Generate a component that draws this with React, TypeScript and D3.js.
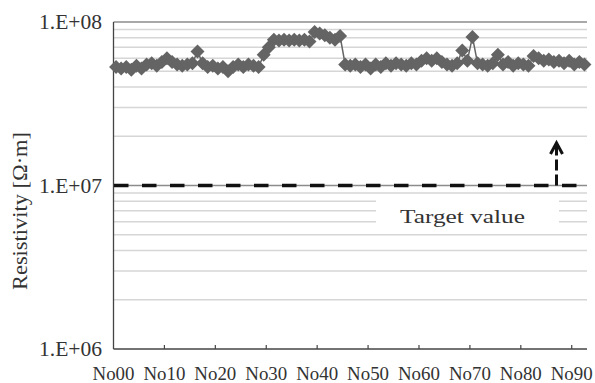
import React from "react";
import * as d3 from "d3";

// ---- Data ----
const categories: string[] = Array.from({ length: 93 }, (_, i) => "No" + String(i).padStart(2, "0"));
const tickLabels: string[] = ["No00", "No10", "No20", "No30", "No40", "No50", "No60", "No70", "No80", "No90"];
const resistivity: number[] = [
  5.3e7, 5.2e7, 5.3e7, 5.1e7, 5.4e7, 5.2e7, 5.5e7, 5.6e7, 5.4e7, 5.7e7,
  6.0e7, 5.7e7, 5.5e7, 5.4e7, 5.5e7, 5.6e7, 6.6e7, 5.6e7, 5.3e7, 5.4e7,
  5.2e7, 5.3e7, 5.0e7, 5.3e7, 5.5e7, 5.3e7, 5.5e7, 5.4e7, 5.3e7, 6.3e7,
  7.0e7, 7.8e7, 7.7e7, 7.8e7, 7.7e7, 7.8e7, 7.7e7, 7.8e7, 7.6e7, 8.7e7,
  8.5e7, 8.3e7, 8.0e7, 7.8e7, 8.2e7, 5.5e7, 5.4e7, 5.5e7, 5.3e7, 5.5e7,
  5.2e7, 5.5e7, 5.3e7, 5.6e7, 5.4e7, 5.6e7, 5.5e7, 5.4e7, 5.6e7, 5.5e7,
  5.8e7, 6.0e7, 5.8e7, 6.0e7, 5.7e7, 5.5e7, 5.4e7, 5.6e7, 6.7e7, 5.8e7,
  8.1e7, 5.6e7, 5.5e7, 5.4e7, 5.6e7, 6.3e7, 5.5e7, 5.7e7, 5.4e7, 5.6e7,
  5.5e7, 5.4e7, 6.2e7, 6.0e7, 5.8e7, 5.9e7, 5.7e7, 5.8e7, 5.6e7, 5.8e7,
  5.5e7, 5.7e7, 5.5e7,
];
const yTickValues: number[] = [1e6, 1e7, 1e8];
const yTickLabels: string[] = ["1.E+06", "1.E+07", "1.E+08"];
const targetValue = 1e7;
const targetLabel = "Target value";
const yTitle = "Resistivity [Ω·m]";

const W = 595;
const H = 383;
const L = 113.5;
const R = 587;
const T = 22;
const B = 349;
const FONT = "'Liberation Serif', 'Times New Roman', serif";
const TEXT = "#333";

export default function App() {
  const x = d3.scaleBand<string>().domain(categories).range([L, R]).paddingInner(0).paddingOuter(0);
  const y = d3.scaleLog().domain([1e6, 1e8]).range([B, T]);
  const cx = (i: number) => (x(categories[i]) as number) + x.bandwidth() / 2;

  // minor gridlines
  const grid: number[] = [];
  for (let e = 6; e < 8; e++) {
    for (let m = 2; m <= 9; m++) grid.push(m * Math.pow(10, e));
  }
  const line = d3
    .line<number>()
    .x((_, i) => cx(i))
    .y((d) => y(d));
  const r = 7;
  const diamond = (px: number, py: number) =>
    `M${px},${py - r}L${px + r},${py}L${px},${py + r}L${px - r},${py}Z`;

  const ty = y(targetValue);
  const arrowX = 556.5;

  return (
    <svg width={W} height={H} style={{ position: "absolute", left: 0, top: 0, background: "#fff" }}>
      <rect x={0} y={0} width={W} height={H} fill="#fff" />
      {grid.map((g) => (
        <line key={g} x1={L} x2={R} y1={y(g)} y2={y(g)} stroke="#d6d6d6" strokeWidth={1.5} />
      ))}
      {yTickValues.slice(1).map((v) => (
        <line key={v} x1={L} x2={R} y1={y(v)} y2={y(v)} stroke="#8c8c8c" strokeWidth={1.3} />
      ))}
      {/* target label box */}
      <rect x={376} y={197} width={183} height={33} fill="#fff" />
      <text x={462.5} y={223} fontFamily={FONT} fontSize={19} fill={TEXT} textAnchor="middle" textLength={125} lengthAdjust="spacingAndGlyphs">
        {targetLabel}
      </text>
      {/* axes */}
      <line x1={L} x2={L} y1={T} y2={B} stroke="#444" strokeWidth={1.3} />
      <line x1={L} x2={R} y1={B} y2={B} stroke="#444" strokeWidth={1.3} />
      {tickLabels.map((t, k) => {
        const xx = (x(categories[k * 10]) as number);
        return (
          <g key={t}>
            {k > 0 && <line x1={xx} x2={xx} y1={B} y2={B - 4} stroke="#444" strokeWidth={1.2} />}
            <text x={xx} y={380} fontFamily={FONT} fontSize={19} fill={TEXT} textAnchor="middle" textLength={42} lengthAdjust="spacingAndGlyphs">
              {t}
            </text>
          </g>
        );
      })}
      {yTickValues.map((v, k) => (
        <text key={v} x={102} y={y(v) + 7} fontFamily={FONT} fontSize={20} fill={TEXT} textAnchor="end" textLength={63} lengthAdjust="spacingAndGlyphs">
          {yTickLabels[k]}
        </text>
      ))}
      <text
        transform={`translate(27,211) rotate(-90)`}
        fontFamily={FONT}
        fontSize={20}
        fill={TEXT}
        textAnchor="middle"
        textLength={158}
        lengthAdjust="spacingAndGlyphs"
      >
        {yTitle}
      </text>
      {/* target line */}
      <line x1={114} x2={578} y1={ty} y2={ty} stroke="#111" strokeWidth={3.5} strokeDasharray="14.5 13.5" />
      {/* arrow */}
      <line x1={arrowX} x2={arrowX} y1={ty} y2={145} stroke="#111" strokeWidth={3} strokeDasharray="11 4" />
      <path d={`M${arrowX - 6},${154} L${arrowX},${143} L${arrowX + 6},${154}`} fill="none" stroke="#111" strokeWidth={3} />
      {/* series */}
      <path d={line(resistivity) || ""} fill="none" stroke="#646464" strokeWidth={1.5} />
      {resistivity.map((v, i) => (
        <path key={i} d={diamond(cx(i), y(v))} fill="#646464" />
      ))}
    </svg>
  );
}
